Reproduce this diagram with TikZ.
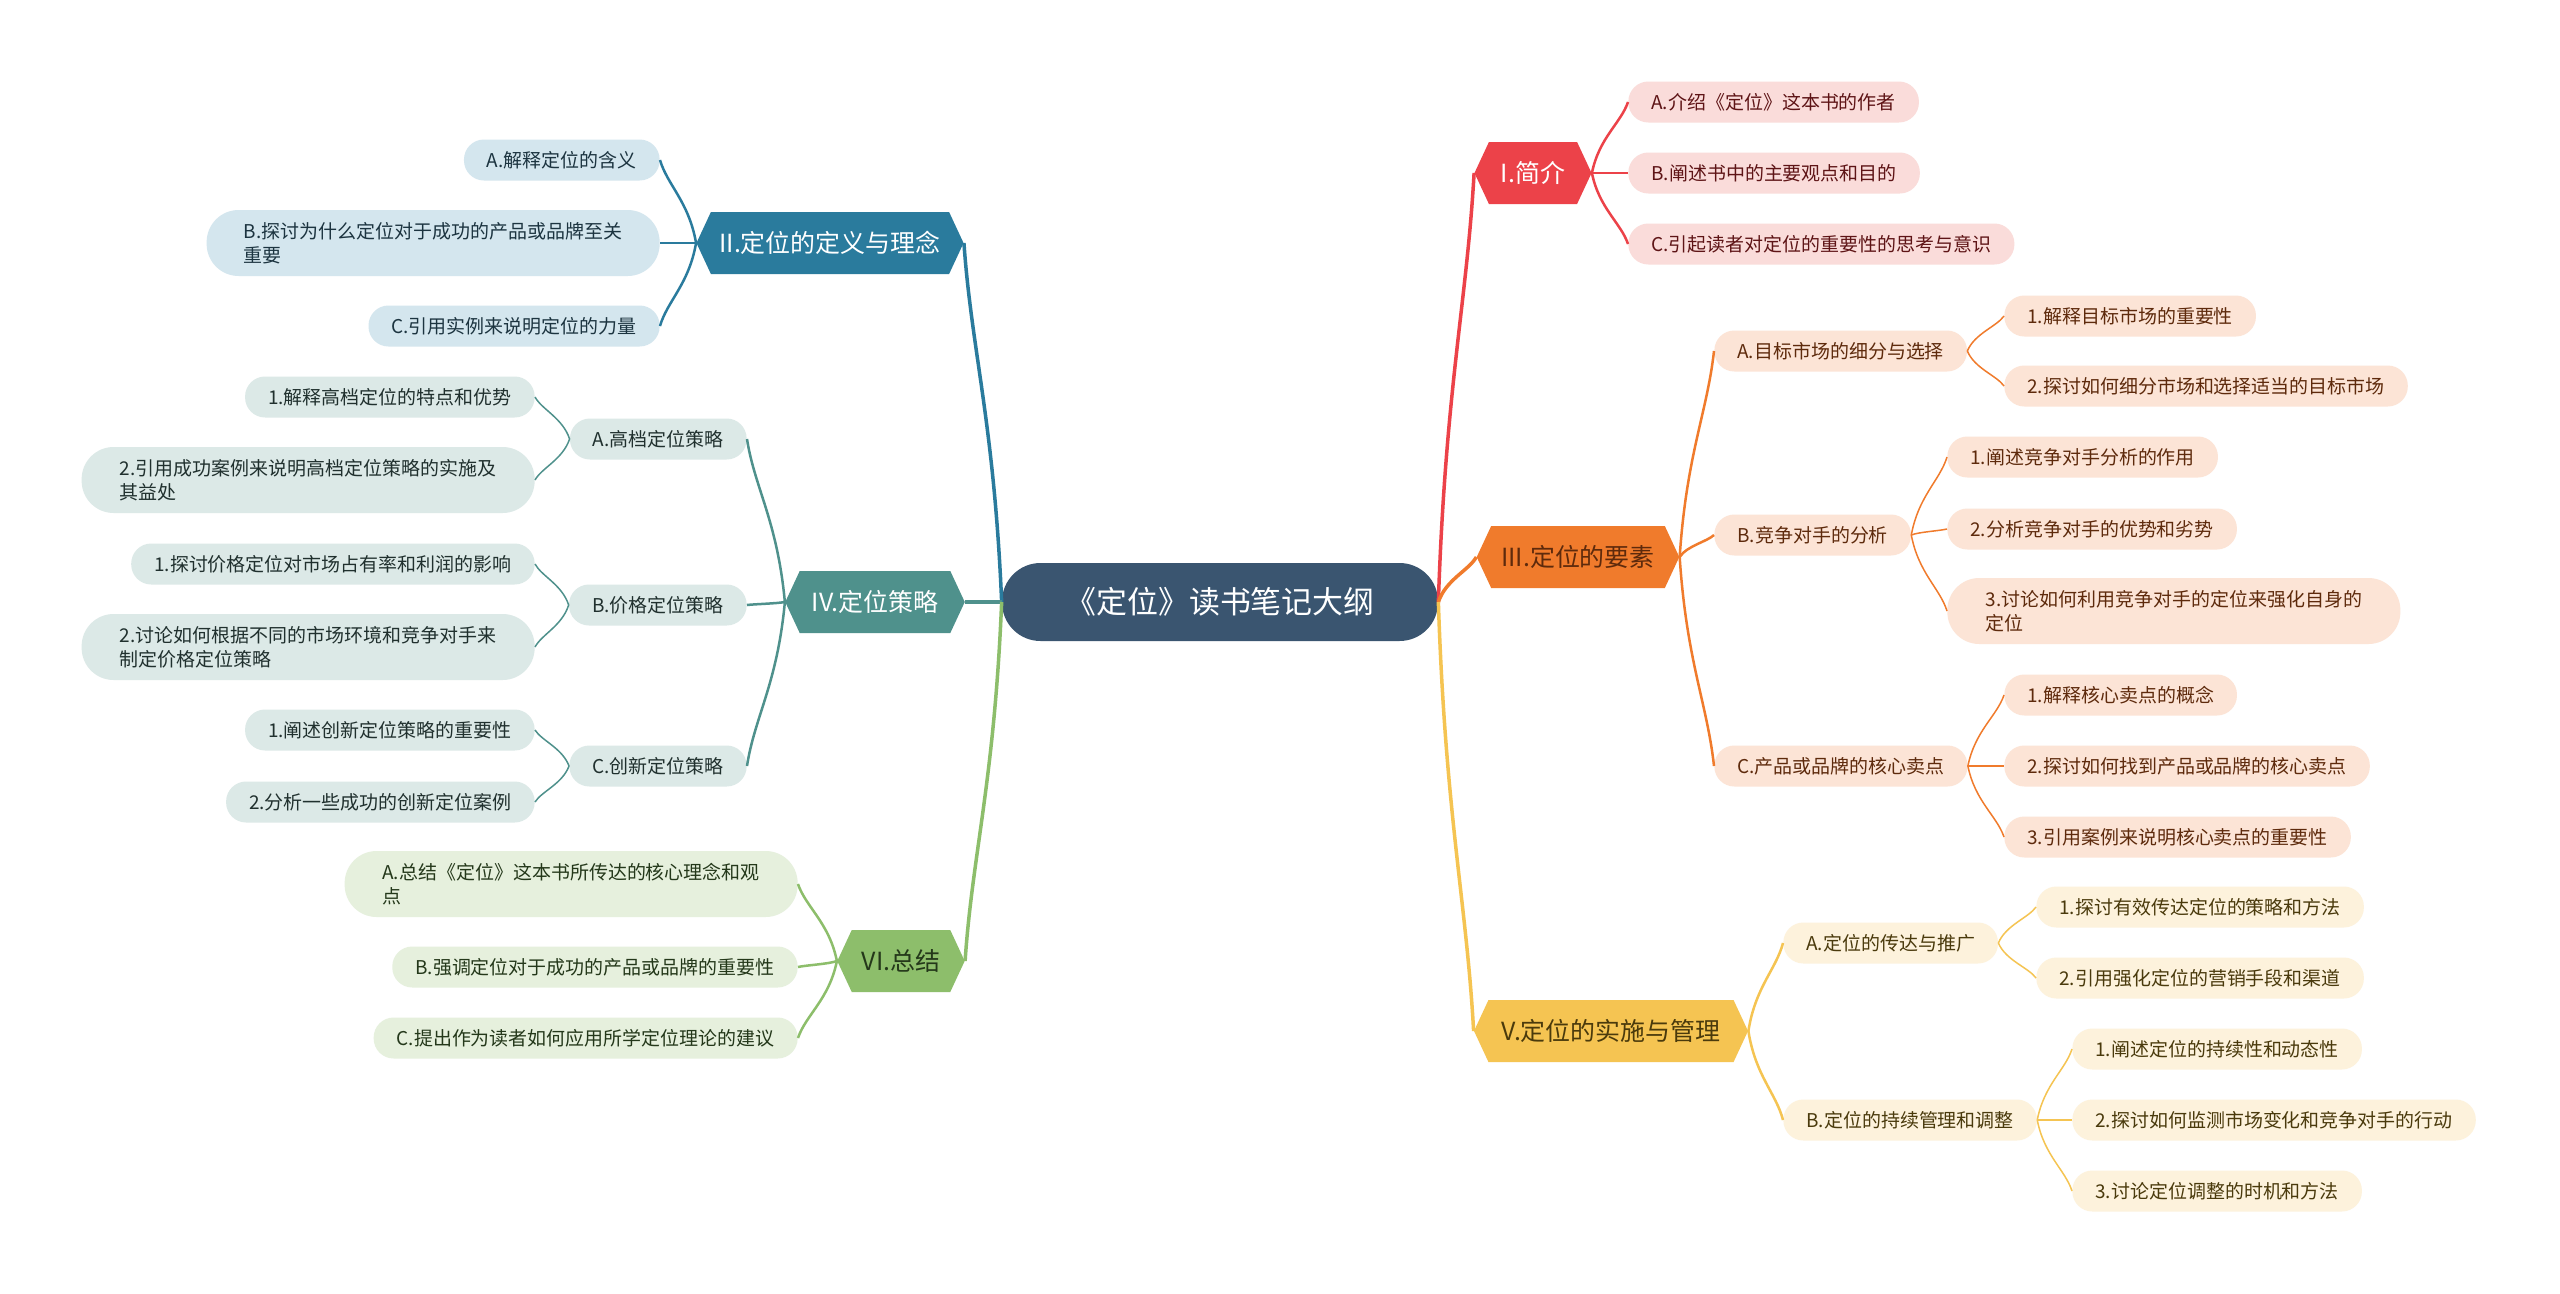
\documentclass[tikz,border=0pt]{standalone}
\usepackage{fontspec}
\setmainfont{Noto Sans CJK SC}
\usetikzlibrary{shapes.symbols,calc}
\definecolor{rootblue}{HTML}{3A5570}
\definecolor{redI}{HTML}{EC4249}
\definecolor{pinkI}{HTML}{FADCDA}
\definecolor{txtI}{HTML}{5E1416}
\definecolor{blueII}{HTML}{2A7B9D}
\definecolor{paleII}{HTML}{D4E6EE}
\definecolor{txtII}{HTML}{1C3440}
\definecolor{orangeIII}{HTML}{F07B2C}
\definecolor{paleIII}{HTML}{FCE4D6}
\definecolor{txtIII}{HTML}{5E2A0C}
\definecolor{tealIV}{HTML}{4F918C}
\definecolor{paleIV}{HTML}{DCE9E7}
\definecolor{txtIV}{HTML}{20302E}
\definecolor{yellowV}{HTML}{F5C452}
\definecolor{paleV}{HTML}{FDF2DC}
\definecolor{txtV}{HTML}{4A3A0C}
\definecolor{greenVI}{HTML}{8DBE6B}
\definecolor{paleVI}{HTML}{E6F0DD}
\definecolor{txtVI}{HTML}{24381A}
\tikzset{topic/.style={signal,signal to=east and west,signal pointer angle=130,minimum height=12.4mm,inner xsep=2.0mm,inner ysep=0pt,font=\fontsize{14.2pt}{17pt}\selectfont}}
\tikzset{item/.style={rectangle,rounded corners=4mm,minimum height=8.2mm,inner xsep=4.6mm,inner ysep=0pt,align=left,font=\fontsize{10.8pt}{13.66pt}\selectfont}}
\tikzset{itemtwo/.style={rounded corners=6.4mm,minimum height=13.2mm,minimum width=90.6mm}}
\tikzset{link/.style={to path={let \p1=(\tikztostart),\p2=(\tikztotarget) in .. controls ({\x1+0.2*(\x2-\x1)},{\y1+0.5*(\y2-\y1)}) and ({\x2-0.2*(\x2-\x1)},{\y2-0.3*(\y2-\y1)}) .. (\tikztotarget)}}}

\begin{document}
\begin{tikzpicture}[x=0.2mm,y=-0.2mm]
		\tikzstyle{lvlone}=[line width=0.7mm]
		\tikzstyle{lvltwo}=[line width=0.5mm]
		\tikzstyle{lvlthree}=[line width=0.3mm]
		\tikzstyle{itemI}=[item,fill=pinkI,text=txtI,anchor=west]
		\tikzstyle{itemII}=[item,fill=paleII,text=txtII,anchor=east]
		\tikzstyle{itemIII}=[item,fill=paleIII,text=txtIII,anchor=west]
		\tikzstyle{itemIV}=[item,fill=paleIV,text=txtIV,anchor=east]
		\tikzstyle{itemV}=[item,fill=paleV,text=txtV,anchor=west]
		\tikzstyle{itemVI}=[item,fill=paleVI,text=txtVI,anchor=east]

		\useasboundingbox[fill=white] (0,0) rectangle (2560,1293);

		\node[fill=rootblue,text=white,rounded corners=7.7mm,minimum width=87.2mm,minimum height=15.6mm,font=\fontsize{17.6pt}{20pt}\selectfont](root) at (1220,602){《定位》读书笔记大纲};

		% right side
		\node[topic,fill=redI,text=white,inner xsep=2.4mm](s1) at (1533,173){I.简介};
		\node[topic,fill=orangeIII,text=txtIII](s3) at (1578,557){III.定位的要素};
		\node[topic,fill=yellowV,text=txtV,inner xsep=2.6mm](s5) at (1611,1031){V.定位的实施与管理};

		\node[itemI](s1a) at (1628,102){A.介绍《定位》这本书的作者};
		\node[itemI](s1b) at (1628,173){B.阐述书中的主要观点和目的};
		\node[itemI](s1c) at (1628,244){C.引起读者对定位的重要性的思考与意识};

		\node[itemIII](s3a) at (1714,351){A.目标市场的细分与选择};
		\node[itemIII](s3b) at (1714,535){B.竞争对手的分析};
		\node[itemIII](s3c) at (1714,766){C.产品或品牌的核心卖点};

		\node[itemIII](s3a1) at (2004,316){1.解释目标市场的重要性};
		\node[itemIII](s3a2) at (2004,386){2.探讨如何细分市场和选择适当的目标市场};
		\node[itemIII](s3b1) at (1947,457){1.阐述竞争对手分析的作用};
		\node[itemIII](s3b2) at (1947,529){2.分析竞争对手的优势和劣势};
		\node[itemIII,itemtwo](s3b3) at (1947,611){3.讨论如何利用竞争对手的定位来强化自身的\\定位};
		\node[itemIII](s3c1) at (2004,695){1.解释核心卖点的概念};
		\node[itemIII](s3c2) at (2004,766){2.探讨如何找到产品或品牌的核心卖点};
		\node[itemIII](s3c3) at (2004,837){3.引用案例来说明核心卖点的重要性};

		\node[itemV](s5a) at (1783,943){A.定位的传达与推广};
		\node[itemV](s5b) at (1783,1120){B.定位的持续管理和调整};
		\node[itemV](s5a1) at (2036,907){1.探讨有效传达定位的策略和方法};
		\node[itemV](s5a2) at (2036,978){2.引用强化定位的营销手段和渠道};
		\node[itemV](s5b1) at (2072,1049){1.阐述定位的持续性和动态性};
		\node[itemV](s5b2) at (2072,1120){2.探讨如何监测市场变化和竞争对手的行动};
		\node[itemV](s5b3) at (2072,1191){3.讨论定位调整的时机和方法};

		% left side
		\node[topic,fill=blueII,text=white,inner xsep=1.7mm](s2) at (830,243){II.定位的定义与理念};
		\node[topic,fill=tealIV,text=white,inner xsep=2.4mm](s4) at (875,602){IV.定位策略};
		\node[topic,fill=greenVI,text=txtVI](s6) at (901,961){VI.总结};

		\node[itemII](s2a) at (660,160){A.解释定位的含义};
		\node[itemII,itemtwo](s2b) at (660,243){B.探讨为什么定位对于成功的产品或品牌至关\\重要};
		\node[itemII](s2c) at (660,326){C.引用实例来说明定位的力量};

		\node[itemIV](s4a) at (747,439){A.高档定位策略};
		\node[itemIV](s4b) at (747,605){B.价格定位策略};
		\node[itemIV](s4c) at (747,766){C.创新定位策略};
		\node[itemIV](s4a1) at (535,397){1.解释高档定位的特点和优势};
		\node[itemIV,itemtwo](s4a2) at (535,480){2.引用成功案例来说明高档定位策略的实施及\\其益处};
		\node[itemIV](s4b1) at (535,564){1.探讨价格定位对市场占有率和利润的影响};
		\node[itemIV,itemtwo](s4b2) at (535,647){2.讨论如何根据不同的市场环境和竞争对手来\\制定价格定位策略};
		\node[itemIV](s4c1) at (535,730){1.阐述创新定位策略的重要性};
		\node[itemIV](s4c2) at (535,802){2.分析一些成功的创新定位案例};

		\node[itemVI,itemtwo](s6a) at (798,884){A.总结《定位》这本书所传达的核心理念和观\\点};
		\node[itemVI](s6b) at (798,967){B.强调定位对于成功的产品或品牌的重要性};
		\node[itemVI](s6c) at (798,1038){C.提出作为读者如何应用所学定位理论的建议};

		% main branches
		\draw[lvlone,redI] (root.east) to[link] (s1.west);
		\draw[lvlone,orangeIII] (root.east) to[link] (s3.west);
		\draw[lvlone,yellowV] (root.east) to[link] (s5.west);
		\draw[lvlone,blueII] (root.west) to[link] (s2.east);
		\draw[lvlone,tealIV] (root.west) to[link] (s4.east);
		\draw[lvlone,greenVI] (root.west) to[link] (s6.east);

		% second level
		\draw[lvltwo,redI] (s1.east) to[link] (s1a.west);
		\draw[lvltwo,redI] (s1.east) to[link] (s1b.west);
		\draw[lvltwo,redI] (s1.east) to[link] (s1c.west);

		\draw[lvltwo,orangeIII] (s3.east) to[link] (s3a.west);
		\draw[lvltwo,orangeIII] (s3.east) to[link] (s3b.west);
		\draw[lvltwo,orangeIII] (s3.east) to[link] (s3c.west);

		\draw[lvltwo,yellowV] (s5.east) to[link] (s5a.west);
		\draw[lvltwo,yellowV] (s5.east) to[link] (s5b.west);

		\draw[lvltwo,blueII] (s2.west) to[link] (s2a.east);
		\draw[lvltwo,blueII] (s2.west) to[link] (s2b.east);
		\draw[lvltwo,blueII] (s2.west) to[link] (s2c.east);

		\draw[lvltwo,tealIV] (s4.west) to[link] (s4a.east);
		\draw[lvltwo,tealIV] (s4.west) to[link] (s4b.east);
		\draw[lvltwo,tealIV] (s4.west) to[link] (s4c.east);

		\draw[lvltwo,greenVI] (s6.west) to[link] (s6a.east);
		\draw[lvltwo,greenVI] (s6.west) to[link] (s6b.east);
		\draw[lvltwo,greenVI] (s6.west) to[link] (s6c.east);

		% third level
		\draw[lvlthree,orangeIII] (s3a.east) to[link] (s3a1.west);
		\draw[lvlthree,orangeIII] (s3a.east) to[link] (s3a2.west);
		\draw[lvlthree,orangeIII] (s3b.east) to[link] (s3b1.west);
		\draw[lvlthree,orangeIII] (s3b.east) to[link] (s3b2.west);
		\draw[lvlthree,orangeIII] (s3b.east) to[link] (s3b3.west);
		\draw[lvlthree,orangeIII] (s3c.east) to[link] (s3c1.west);
		\draw[lvlthree,orangeIII] (s3c.east) to[link] (s3c2.west);
		\draw[lvlthree,orangeIII] (s3c.east) to[link] (s3c3.west);

		\draw[lvlthree,yellowV] (s5a.east) to[link] (s5a1.west);
		\draw[lvlthree,yellowV] (s5a.east) to[link] (s5a2.west);
		\draw[lvlthree,yellowV] (s5b.east) to[link] (s5b1.west);
		\draw[lvlthree,yellowV] (s5b.east) to[link] (s5b2.west);
		\draw[lvlthree,yellowV] (s5b.east) to[link] (s5b3.west);

		\draw[lvlthree,tealIV] (s4a.west) to[link] (s4a1.east);
		\draw[lvlthree,tealIV] (s4a.west) to[link] (s4a2.east);
		\draw[lvlthree,tealIV] (s4b.west) to[link] (s4b1.east);
		\draw[lvlthree,tealIV] (s4b.west) to[link] (s4b2.east);
		\draw[lvlthree,tealIV] (s4c.west) to[link] (s4c1.east);
		\draw[lvlthree,tealIV] (s4c.west) to[link] (s4c2.east);
	\end{tikzpicture}
\end{document}
